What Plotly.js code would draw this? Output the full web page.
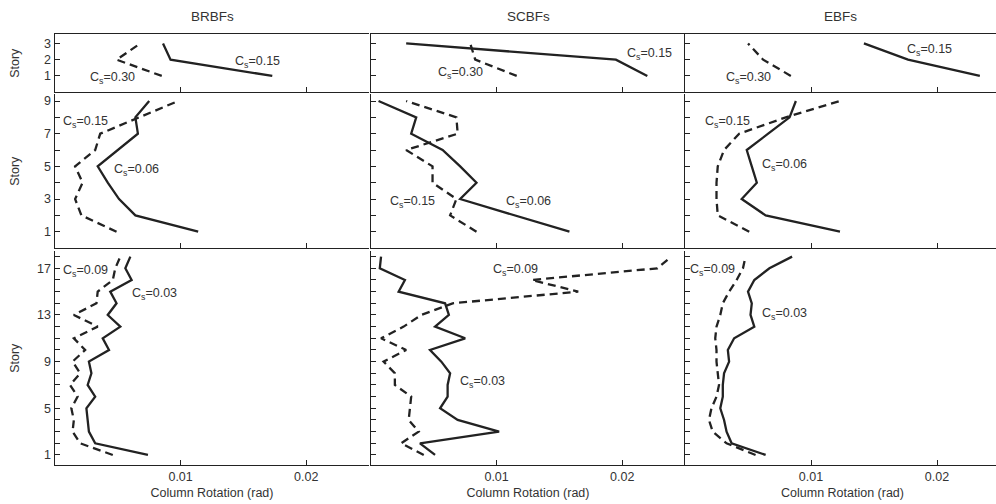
<!DOCTYPE html>
<html>
<head>
<meta charset="utf-8">
<script src="https://cdn.plot.ly/plotly-3.0.1.min.js"></script>
<style>
html,body{margin:0;padding:0;overflow:hidden;background:#fff;}
#chart{width:1000px;height:504px;}
</style>
</head>
<body>
<div id="chart"></div>
<script>
// ---- Data ----
const systems = ["BRBFs", "SCBFs", "EBFs"];
const xTickVals = [0.01, 0.02];
const xTickText = ["0.01", "0.02"];
const xTitle = "Column Rotation (rad)";
const yTitle = "Story";

const stories3 = [1, 2, 3];
const stories9 = [1, 2, 3, 4, 5, 6, 7, 8, 9];
const stories18 = [1, 2, 3, 4, 5, 6, 7, 8, 9, 10, 11, 12, 13, 14, 15, 16, 17, 18];

const yTicks3 = [1, 2, 3];
const yTicks9 = [1, 3, 5, 7, 9];
const yTicks18 = [1, 5, 9, 13, 17];

// 3-story (solid: Cs=0.15, dashed: Cs=0.30)
const brbf3_cs015 = [0.0173, 0.0092, 0.0086];
const brbf3_cs030 = [0.0085, 0.0049, 0.0068];
const scbf3_cs015 = [0.0220, 0.0195, 0.0028];
const scbf3_cs030 = [0.0116, 0.0083, 0.0079];
const ebf3_cs015 = [0.0234, 0.0177, 0.0142];
const ebf3_cs030 = [0.0084, 0.0062, 0.0050];

// 9-story (solid: Cs=0.06, dashed: Cs=0.15)
const brbf9_cs006 = [0.0114, 0.0064, 0.0051, 0.0042, 0.0034, 0.0050, 0.0066, 0.0064, 0.0075];
const brbf9_cs015 = [0.0049, 0.0021, 0.0016, 0.0022, 0.0016, 0.0032, 0.0036, 0.0067, 0.0098];
const scbf9_cs006 = [0.0158, 0.0115, 0.0071, 0.0084, 0.0071, 0.0057, 0.0032, 0.0036, 0.0006];
const scbf9_cs015 = [0.0084, 0.0063, 0.0068, 0.0049, 0.0049, 0.0028, 0.0069, 0.0068, 0.0028];
const ebf9_cs006 = [0.0123, 0.0064, 0.0045, 0.0057, 0.0053, 0.0049, 0.0066, 0.0083, 0.0088];
const ebf9_cs015 = [0.0051, 0.0026, 0.0025, 0.0025, 0.0026, 0.0031, 0.0043, 0.0080, 0.0123];

// 18-story (solid: Cs=0.03, dashed: Cs=0.09)
const brbf18_cs003 = [0.0074, 0.0032, 0.0027, 0.0026, 0.0025, 0.0032, 0.0026, 0.0029, 0.0027, 0.0043, 0.0038, 0.0052, 0.0042, 0.0049, 0.0044, 0.0061, 0.0056, 0.0060];
const brbf18_cs009 = [0.0046, 0.0020, 0.0014, 0.0015, 0.0013, 0.0018, 0.0012, 0.0020, 0.0014, 0.0024, 0.0015, 0.0034, 0.0015, 0.0033, 0.0034, 0.0046, 0.0048, 0.0052];
const scbf18_cs003 = [0.0051, 0.0039, 0.0102, 0.0069, 0.0055, 0.0061, 0.0061, 0.0063, 0.0056, 0.0047, 0.0075, 0.0051, 0.0062, 0.0059, 0.0022, 0.0027, 0.0007, 0.0008];
const scbf18_cs009 = [0.0042, 0.0024, 0.0038, 0.0030, 0.0031, 0.0032, 0.0019, 0.0019, 0.0010, 0.0028, 0.0008, 0.0026, 0.0040, 0.0065, 0.0165, 0.0128, 0.0228, 0.0239];
const ebf18_cs003 = [0.0064, 0.0037, 0.0033, 0.0031, 0.0028, 0.0030, 0.0030, 0.0031, 0.0035, 0.0034, 0.0039, 0.0055, 0.0052, 0.0053, 0.0050, 0.0055, 0.0067, 0.0085];
const ebf18_cs009 = [0.0056, 0.0033, 0.0022, 0.0019, 0.0021, 0.0025, 0.0027, 0.0026, 0.0025, 0.0025, 0.0024, 0.0025, 0.0028, 0.0030, 0.0035, 0.0041, 0.0046, 0.0048];

// Labels
const labels3 = ["C<sub>s</sub>=0.15", "C<sub>s</sub>=0.30"];
const labels9 = ["C<sub>s</sub>=0.06", "C<sub>s</sub>=0.15"];
const labels18 = ["C<sub>s</sub>=0.03", "C<sub>s</sub>=0.09"];

// ---- Layout helpers ----
const W = 1000, H = 504;
const colDom = [[0.055, 0.369], [0.371, 0.685], [0.685, 1.0]];
const rowDom = [[0.8181, 0.9325], [0.5085, 0.8135], [0.0774, 0.5026]];
const yRanges = [[0.03, 3.58], [0.02, 9.43], [0.14, 18.51]];
const yTickSets = [yTicks3, yTicks9, yTicks18];
const storySets = [stories3, stories9, stories18];

const seriesGrid = [
  [[brbf3_cs015, brbf3_cs030], [scbf3_cs015, scbf3_cs030], [ebf3_cs015, ebf3_cs030]],
  [[brbf9_cs006, brbf9_cs015], [scbf9_cs006, scbf9_cs015], [ebf9_cs006, ebf9_cs015]],
  [[brbf18_cs003, brbf18_cs009], [scbf18_cs003, scbf18_cs009], [ebf18_cs003, ebf18_cs009]]
];
const labelSets = [labels3, labels9, labels18];

// annotation positions [solid label, dashed label] per panel, in data coords
const labelPos = [
  [[[0.0161, 1.84], [0.0046, 0.88]], [[0.0222, 2.38], [0.0071, 1.18]], [[0.0194, 2.62], [0.0050, 0.88]]],
  [[[0.0065, 4.77], [0.0024, 7.72]], [[0.0125, 2.83], [0.0033, 2.83]], [[0.0079, 5.07], [0.0034, 7.72]]],
  [[[0.0079, 14.77], [0.0024, 16.77]], [[0.0089, 7.23], [0.0115, 16.85]], [[0.0079, 13.08], [0.0022, 16.85]]]
];

const lineColor = "#222";
const txtColor = "#333";
const fontFam = "Liberation Sans, Arial, sans-serif";

const traces = [];
const layout = {
  width: W, height: H,
  margin: {l: 0, r: 0, t: 0, b: 0},
  paper_bgcolor: "#fff", plot_bgcolor: "#fff",
  showlegend: false,
  font: {family: fontFam, size: 12, color: txtColor},
  annotations: [],
  shapes: []
};

for (let r = 0; r < 3; r++) {
  for (let c = 0; c < 3; c++) {
    const n = r * 3 + c + 1;
    const xa = "x" + (n === 1 ? "" : n);
    const ya = "y" + (n === 1 ? "" : n);
    const xKey = "xaxis" + (n === 1 ? "" : n);
    const yKey = "yaxis" + (n === 1 ? "" : n);
    const [solid, dashed] = seriesGrid[r][c];
    const st = storySets[r];
    traces.push({x: solid, y: st, xaxis: xa, yaxis: ya, mode: "lines", type: "scatter",
      line: {color: lineColor, width: 2.3}, hoverinfo: "skip"});
    traces.push({x: dashed, y: st, xaxis: xa, yaxis: ya, mode: "lines", type: "scatter",
      line: {color: lineColor, width: 2.3, dash: "8px,5px"}, hoverinfo: "skip"});

    layout[xKey] = {
      domain: colDom[c], anchor: ya, range: [0, 0.025],
      tickmode: "array", tickvals: xTickVals, ticktext: xTickText,
      ticks: "inside", ticklen: 5, tickcolor: lineColor, tickwidth: 1,
      showline: true, linecolor: lineColor, linewidth: 1.5,
      mirror: r === 0,
      showgrid: false, zeroline: false,
      showticklabels: r === 2,
      tickfont: {family: fontFam, size: 12.5, color: txtColor},
      fixedrange: true
    };
    if (r === 2) {
      layout[xKey].title = {text: xTitle, font: {family: fontFam, size: 12.5, color: txtColor}, standoff: 5};
    }
    layout[yKey] = {
      domain: rowDom[r], anchor: xa, range: yRanges[r],
      tickmode: "array", tickvals: yTickSets[r],
      ticks: "inside", ticklen: 5, tickcolor: lineColor, tickwidth: 1,
      minor: (r === 0 ? undefined : {tickmode: "linear", tick0: 0, dtick: 1, ticks: "inside", ticklen: 5, tickcolor: lineColor, tickwidth: 1, showgrid: false}),
      showline: true, linecolor: lineColor, linewidth: 1.5,
      mirror: false,
      showgrid: false, zeroline: false,
      showticklabels: c === 0,
      tickfont: {family: fontFam, size: 12.5, color: txtColor},
      fixedrange: true
    };

    // curve labels
    const pos = labelPos[r][c];
    const labs = labelSets[r];
    for (let k = 0; k < 2; k++) {
      layout.annotations.push({
        x: pos[k][0], y: pos[k][1], xref: xa, yref: ya,
        text: labs[k], showarrow: false,
        font: {family: fontFam, size: 12.5, color: txtColor},
        xanchor: "center", yanchor: "middle"
      });
    }
  }
  // Story label
  const yMid = (rowDom[r][0] + rowDom[r][1]) / 2;
  layout.annotations.push({
    x: 0.015, y: yMid, xref: "paper", yref: "paper", text: yTitle, textangle: -90,
    showarrow: false, font: {family: fontFam, size: 12.5, color: txtColor},
    xanchor: "center", yanchor: "middle"
  });
}

// column titles
for (let c = 0; c < 3; c++) {
  layout.annotations.push({
    x: (colDom[c][0] + colDom[c][1]) / 2 + (c === 2 ? -0.002 : 0), y: 1 - 17 / H,
    xref: "paper", yref: "paper", text: systems[c], showarrow: false,
    font: {family: fontFam, size: 13.5, color: txtColor},
    xanchor: "center", yanchor: "middle"
  });
}

Plotly.newPlot("chart", traces, layout, {staticPlot: true, displayModeBar: false});
</script>
</body>
</html>
